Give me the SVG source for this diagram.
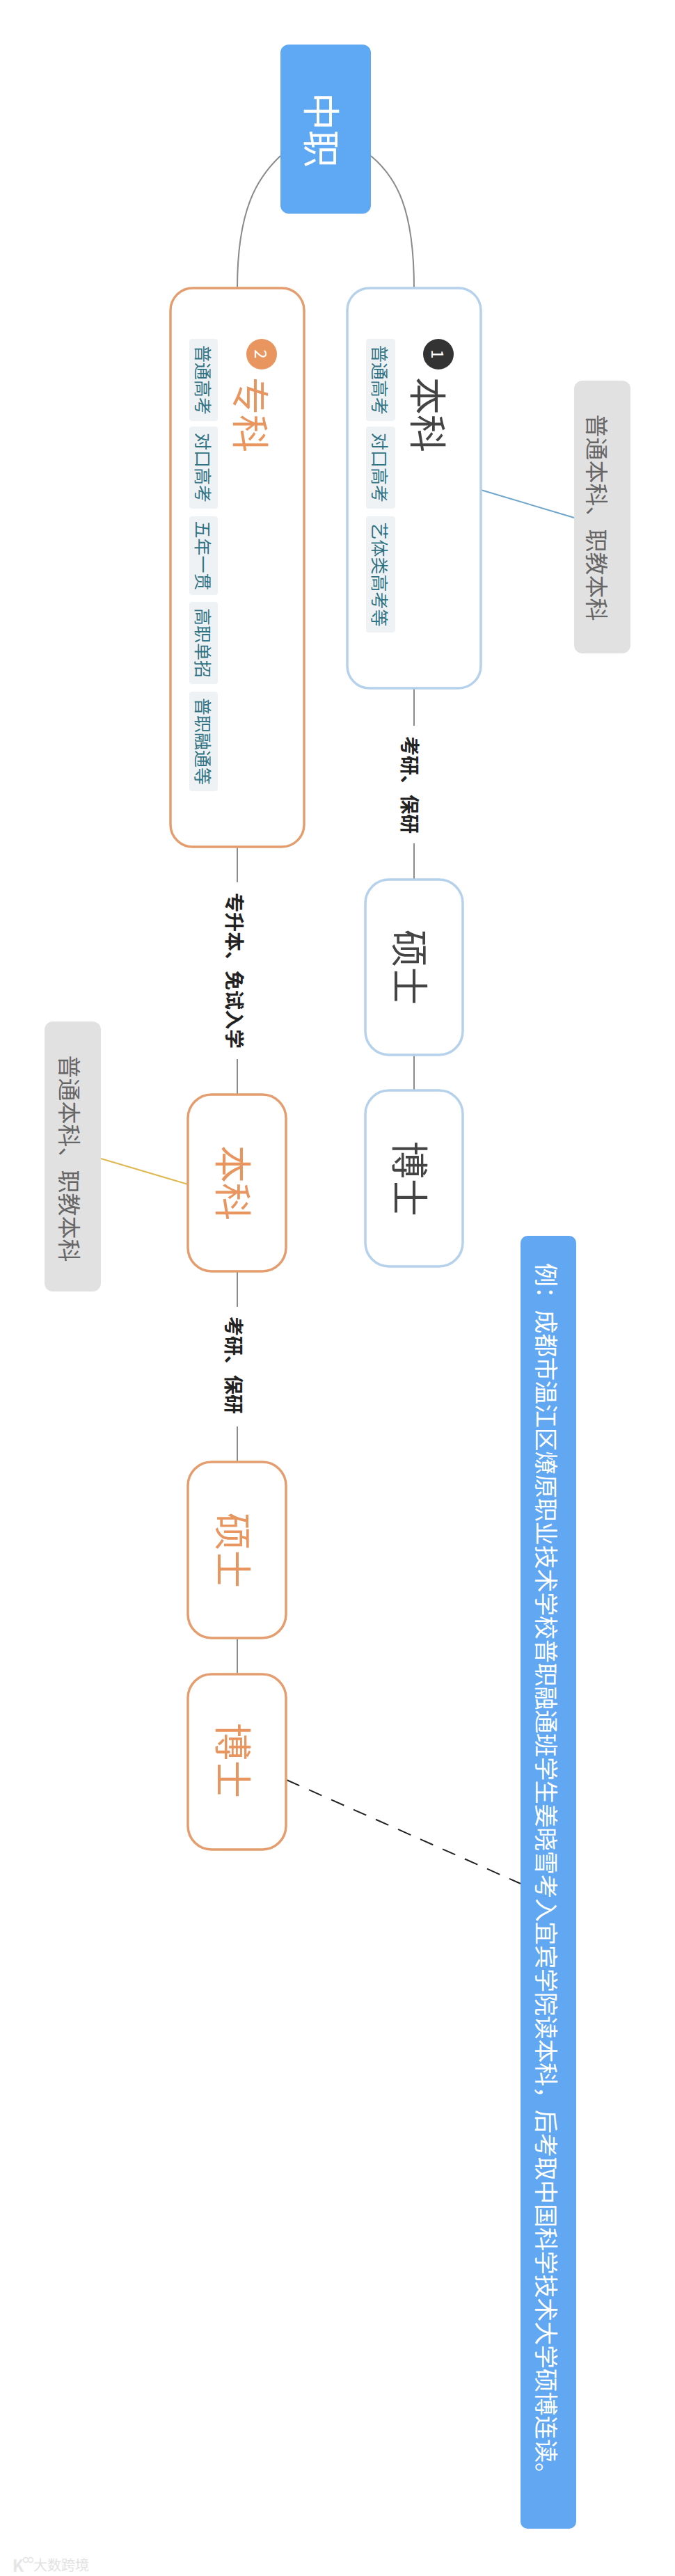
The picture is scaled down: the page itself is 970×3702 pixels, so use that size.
<svg xmlns="http://www.w3.org/2000/svg" width="970" height="3702" viewBox="0 0 970 3702">
<style>
text{font-family:"Noto Sans CJK SC","Noto Sans",sans-serif;text-anchor:middle;dominant-baseline:central}
.conn{fill:none;stroke:#8a8a8a;stroke-width:2}
.ob{fill:#fff;stroke:#E49D6E;stroke-width:3.5}
.bb{fill:#fff;stroke:#B6D1EC;stroke-width:3.5}
.pill{fill:#EFF2F4}
.pt{font-size:25px;fill:#2F7283}
.ot{fill:#E8955F}
.dt{fill:#444}
.lbl{font-size:28px;font-weight:bold;fill:#222}
.note{fill:#E1E1E1}
.nt{font-size:33px;fill:#666}
</style>
<rect width="970" height="3702" fill="#fff"/>
<g id="connectors">
<path class="conn" d="M403,224 C370,255 341,300 341,414"/>
<path class="conn" d="M533,224 C570,255 595,300 595,414"/>
<line class="conn" x1="595" y1="989" x2="595" y2="1043"/>
<line class="conn" x1="595" y1="1212" x2="595" y2="1264"/>
<line class="conn" x1="595" y1="1516" x2="595" y2="1567"/>
<line class="conn" x1="341" y1="1217" x2="341" y2="1268"/>
<line class="conn" x1="341" y1="1522" x2="341" y2="1573"/>
<line class="conn" x1="341" y1="1827" x2="341" y2="1878"/>
<line class="conn" x1="341" y1="2050" x2="341" y2="2101"/>
<line class="conn" x1="341" y1="2354" x2="341" y2="2406"/>
<line x1="691" y1="704" x2="825" y2="744" stroke="#6EA5CB" stroke-width="2"/>
<line x1="145" y1="1665" x2="270" y2="1702" stroke="#E0B850" stroke-width="2"/>
<line x1="412" y1="2558" x2="748" y2="2707" stroke="#222" stroke-width="2" stroke-dasharray="20 15"/>
<text class="lbl" transform="translate(590,1128) rotate(90)">考研、保研</text>
<text class="lbl" font-size="27.5" transform="translate(338,1395) rotate(90)">专升本、免试入学</text>
<text class="lbl" transform="translate(337,1962) rotate(90)">考研、保研</text>
</g>
<g id="zhongzhi">
<rect x="403" y="64" width="130" height="243" rx="12" fill="#5FA8F4"/>
<text transform="translate(464,187) rotate(90)" font-size="54" fill="#fff">中职</text>
</g>
<g id="benke1">
<rect class="bb" x="499" y="414" width="192" height="575" rx="32"/>
<circle cx="630" cy="509" r="22" fill="#333"/>
<text transform="translate(630,509) rotate(90)" font-size="24" fill="#fff">1</text>
<text class="dt" transform="translate(617,596) rotate(90)" font-size="54">本科</text>
<rect class="pill" x="526" y="487" width="42" height="118" rx="4"/>
<text class="pt" transform="translate(547,546) rotate(90)">普通高考</text>
<rect class="pill" x="526" y="613" width="42" height="118" rx="4"/>
<text class="pt" transform="translate(547,672) rotate(90)">对口高考</text>
<rect class="pill" x="526" y="742" width="42" height="167" rx="4"/>
<text class="pt" transform="translate(547,825.5) rotate(90)">艺体类高考等</text>
</g>
<g id="zhuanke">
<rect class="ob" x="245" y="414" width="192" height="803" rx="32"/>
<circle cx="376" cy="509" r="22" fill="#E8955F"/>
<text transform="translate(376,509) rotate(90)" font-size="24" fill="#fff">2</text>
<text class="ot" transform="translate(362,596) rotate(90)" font-size="54">专科</text>
<rect class="pill" x="272" y="487" width="41" height="118" rx="4"/>
<text class="pt" transform="translate(293,546) rotate(90)">普通高考</text>
<rect class="pill" x="272" y="613" width="41" height="118" rx="4"/>
<text class="pt" transform="translate(293,672) rotate(90)">对口高考</text>
<rect class="pill" x="272" y="742" width="41" height="113" rx="4"/>
<text class="pt" transform="translate(293,798.5) rotate(90)">五年一贯</text>
<rect class="pill" x="272" y="865" width="41" height="118" rx="4"/>
<text class="pt" transform="translate(293,924) rotate(90)">高职单招</text>
<rect class="pill" x="272" y="994" width="41" height="143" rx="4"/>
<text class="pt" transform="translate(293,1065.5) rotate(90)">普职融通等</text>
</g>
<g id="note1">
<rect class="note" x="825" y="547" width="81" height="392" rx="12"/>
<text class="nt" transform="translate(859,744) rotate(90)">普通本科、职教本科</text>
</g>
<g id="shuoshi1">
<rect class="bb" x="525" y="1264" width="140" height="252" rx="34"/>
<text class="dt" transform="translate(591,1390) rotate(90)" font-size="54">硕士</text>
</g>
<g id="boshi1">
<rect class="bb" x="525" y="1567" width="140" height="253" rx="34"/>
<text class="dt" transform="translate(591,1694) rotate(90)" font-size="54">博士</text>
</g>
<g id="benke2">
<rect class="ob" x="270" y="1573" width="141" height="254" rx="34"/>
<text class="ot" transform="translate(337,1700) rotate(90)" font-size="54">本科</text>
</g>
<g id="note2">
<rect class="note" x="64" y="1468" width="81" height="388" rx="12"/>
<text class="nt" transform="translate(101,1665) rotate(90)">普通本科、职教本科</text>
</g>
<g id="shuoshi2">
<rect class="ob" x="270" y="2101" width="141" height="253" rx="34"/>
<text class="ot" transform="translate(337,2228) rotate(90)" font-size="54">硕士</text>
</g>
<g id="boshi2">
<rect class="ob" x="270" y="2406" width="141" height="252" rx="34"/>
<text class="ot" transform="translate(337,2530) rotate(90)" font-size="54">博士</text>
</g>
<g id="example">
<rect x="748" y="1776" width="80" height="1858" rx="10" fill="#62A7F1"/>
<text transform="translate(786,2694) rotate(90)" font-size="34" fill="#fff" textLength="1758" lengthAdjust="spacing">例：成都市温江区燎原职业技术学校普职融通班学生姜晓雪考入宜宾学院读本科，后考取中国科学技术大学硕博连读。</text>
</g>
<g id="watermark">
<text x="26" y="3685" font-size="24" font-weight="bold" fill="#e4e4e4" stroke="#f4f4f4" stroke-width="0.5">K</text>
<circle cx="37" cy="3679" r="3.5" fill="none" stroke="#e2e2e2" stroke-width="1.5"/>
<circle cx="44" cy="3679" r="3.5" fill="none" stroke="#e2e2e2" stroke-width="1.5"/>
<text x="88" y="3685" font-size="20" fill="#e2e2e2">大数跨境</text>
</g>
</svg>
